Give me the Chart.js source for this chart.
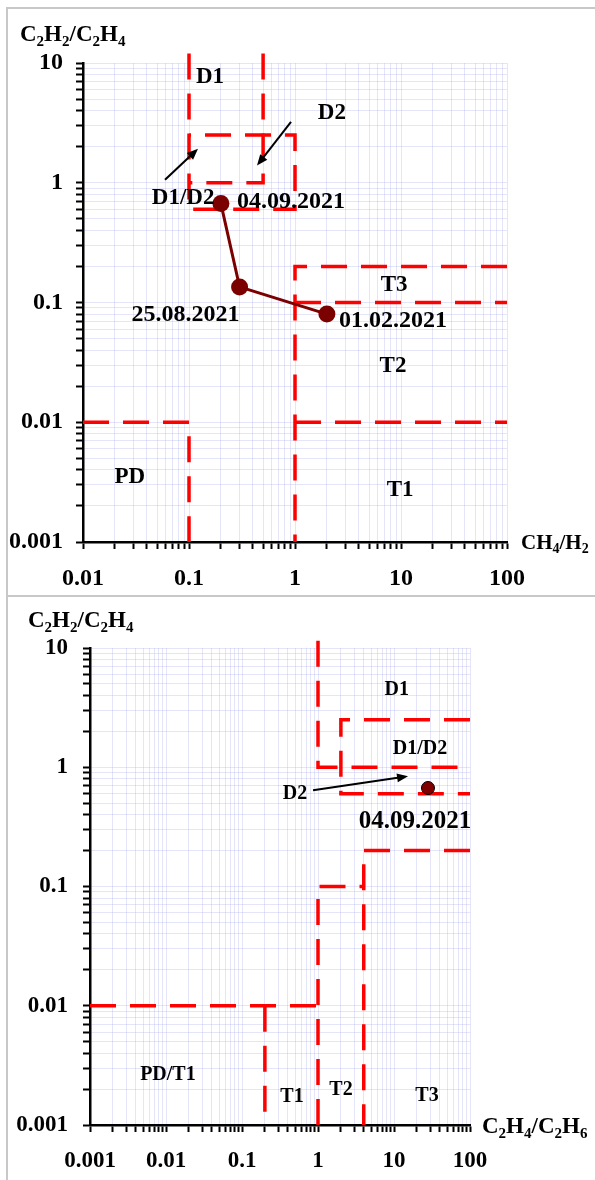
<!DOCTYPE html>
<html>
<head>
<meta charset="utf-8">
<script src="https://cdn.jsdelivr.net/npm/chart.js@4.4.1/dist/chart.umd.min.js"></script>
<style>
    body { margin: 0; background: #fff; width: 595px; height: 1180px; position: relative; overflow: hidden; }
    .frame { position: absolute; border-left: 2px solid #c8c8c8; border-top: 2px solid #c8c8c8; }
    canvas { position: absolute; left: 0; }
</style>
</head>
<body>
<div class="frame" style="left:6px; top:7px; width:600px; height:589px;"></div>
<div class="frame" style="left:6px; top:595px; width:600px; height:600px;"></div>
<canvas id="ratioChart" width="595" height="596" style="top:0"></canvas>
<canvas id="ethyleneChart" width="595" height="584" style="top:596px"></canvas>
<script>
/*** Data ***/
// CH4/H2 vs C2H2/C2H4
const sampleDates = ["04.09.2021", "25.08.2021", "01.02.2021"];
const ch4h2 = [0.2, 0.3, 2];
const c2h2c2h4 = [0.67, 0.135, 0.08];

// C2H4/C2H6 vs C2H2/C2H4 (latest sample only)
const latestDates = ["04.09.2021"];
const c2h4c2h6 = [28];
const c2h2c2h4Latest = [0.67];

// tick labels
const xTicksTop = [0.01, 0.1, 1, 10, 100];
const xTicksBottom = [0.001, 0.01, 0.1, 1, 10, 100];
const yTicks = [0.001, 0.01, 0.1, 1, 10];

// fault zone borders (ratio values)
const zonesTop = [
    [[0.1, 12], [0.1, 0.6], [1, 0.6], [1, 2.5], [0.1, 2.5]],
    [[0.5, 12], [0.5, 1], [0.1, 1]],
    [[100, 0.2], [1, 0.2], [1, 0.001]],
    [[1, 0.1], [100, 0.1]],
    [[1, 0.01], [100, 0.01]],
    [[0.01, 0.01], [0.1, 0.01], [0.1, 0.001]]
];
const zonesBottom = [
    [[0.001, 0.01], [1, 0.01]],
    [[0.2, 0.01], [0.2, 0.001]],
    [[1, 11.5], [1, 1], [100, 1]],
    [[100, 2.5], [2, 2.5], [2, 0.6], [100, 0.6]],
    [[100, 0.2], [4, 0.2], [4, 0.001]],
    [[1, 0.001], [1, 0.1], [4, 0.1]]
];

/*** Helpers ***/
const FONT = '"Liberation Serif", "Times New Roman", serif';

function logTicks(min, max) {
    const ticks = [];
    for (let e = Math.floor(Math.log10(min)); e <= Math.ceil(Math.log10(max)); e++) {
        for (let m = 1; m <= 9; m++) {
            const v = Number((m * Math.pow(10, e)).toPrecision(6));
            if (v >= min * 0.999 && v <= max * 1.001) ticks.push({ value: v });
        }
    }
    return ticks;
}
function tickLabel(list) {
    return function (value) {
        const t = list.find((v) => Math.abs(Math.log10(v) - Math.log10(value)) < 1e-6);
        return t !== undefined ? String(t) : '';
    }
}
function toPoints(xs, ys) {
    return xs.map((x, i) => ({ x: x, y: ys[i] }));
}
function zoneDatasets(zones) {
    return zones.map((z) => ({
        data: z.map((p) => ({ x: p[0], y: p[1] })),
        showLine: true,
        pointRadius: 0,
        borderColor: '#ff0000',
        borderWidth: 3.5,
        borderDash: [26, 14],
        clip: false,
        order: 1
    }));
}
// text with "_" marking a subscript digit
function drawChem(ctx, text, x, y, size) {
    let cx = x;
    for (let i = 0; i < text.length; i++) {
        let ch = text[i];
        if (ch === '_') {
            ch = text[++i];
            ctx.font = 'bold ' + Math.round(size * 0.66) + 'px ' + FONT;
            ctx.fillText(ch, cx, y + size * 0.2);
        } else {
            ctx.font = 'bold ' + size + 'px ' + FONT;
            ctx.fillText(ch, cx, y);
        }
        cx += ctx.measureText(ch).width;
    }
}
function drawArrow(ctx, x1, y1, x2, y2) {
    const a = Math.atan2(y2 - y1, x2 - x1);
    const len = 11, half = 4.5;
    ctx.strokeStyle = '#000';
    ctx.fillStyle = '#000';
    ctx.lineWidth = 2;
    ctx.beginPath();
    ctx.moveTo(x1, y1);
    ctx.lineTo(x2 - Math.cos(a) * len * 0.8, y2 - Math.sin(a) * len * 0.8);
    ctx.stroke();
    ctx.beginPath();
    ctx.moveTo(x2, y2);
    ctx.lineTo(x2 - len * Math.cos(a) + half * Math.sin(a), y2 - len * Math.sin(a) - half * Math.cos(a));
    ctx.lineTo(x2 - len * Math.cos(a) - half * Math.sin(a), y2 - len * Math.sin(a) + half * Math.cos(a));
    ctx.closePath();
    ctx.fill();
}

// zone names, arrows, point dates and axis titles
const notesPlugin = {
    id: 'notes',
    afterDatasetsDraw(chart, args, opts) {
        const ctx = chart.ctx;
        const xs = chart.scales.x, ys = chart.scales.y;
        const area = chart.chartArea;
        ctx.save();
        ctx.fillStyle = '#000';
        ctx.textBaseline = 'middle';
        ctx.textAlign = 'center';
        ctx.font = 'bold ' + opts.zoneSize + 'px ' + FONT;
        opts.zones.forEach((z) => {
            ctx.fillText(z.text, xs.getPixelForValue(z.x), ys.getPixelForValue(z.y));
        });
        opts.arrows.forEach((a) => {
            drawArrow(ctx, xs.getPixelForValue(a[0]), ys.getPixelForValue(a[1]),
                xs.getPixelForValue(a[2]), ys.getPixelForValue(a[3]));
        });
        // dates next to the sample points
        const meta = chart.getDatasetMeta(0);
        ctx.fillStyle = '#000';
        ctx.font = 'bold ' + opts.dateSize + 'px ' + FONT;
        opts.dates.forEach((d, i) => {
            const pt = meta.data[i];
            const off = opts.dateOffsets[i];
            ctx.textAlign = off.align;
            ctx.fillText(d, pt.x + off.dx, pt.y + off.dy);
        });
        // axis titles
        ctx.textAlign = 'left';
        ctx.textBaseline = 'alphabetic';
        drawChem(ctx, opts.yTitle, area.left + opts.yTitlePos[0], area.top + opts.yTitlePos[1], 23);
        drawChem(ctx, opts.xTitle, area.right + opts.xTitlePos[0], area.bottom + opts.xTitlePos[1], opts.xTitleSize);
        ctx.restore();
    }
};

function logScale(min, max, labels, axisSize, pad, fontSize) {
    return {
        type: 'logarithmic',
        min: min,
        max: max,
        afterBuildTicks: (scale) => { scale.ticks = logTicks(min, max); },
        afterFit: (scale) => {
            if (scale.isHorizontal()) scale.height = axisSize;
            else scale.width = axisSize;
        },
        grid: {
            color: 'rgba(170,170,240,0.3)',
            lineWidth: 1,
            drawTicks: true,
            tickLength: 7,
            tickColor: '#000',
            tickWidth: 2
        },
        border: { color: '#000', width: 2.5 },
        ticks: {
            autoSkip: false,
            maxRotation: 0,
            padding: pad,
            color: '#000',
            font: { family: FONT, size: fontSize, weight: 'bold' },
            callback: tickLabel(labels)
        }
    };
}

function renderChart(canvasId, cfg) {
    const ctx = document.getElementById(canvasId).getContext('2d');
    return new Chart(ctx, {
        type: 'scatter',
        data: {
            datasets: [cfg.sample].concat(zoneDatasets(cfg.zones))
        },
        options: {
            responsive: false,
            animation: false,
            events: [],
            layout: { padding: cfg.padding },
            plugins: {
                legend: { display: false },
                tooltip: { enabled: false },
                notes: cfg.notes
            },
            scales: {
                x: logScale(cfg.xMin, 100, cfg.xTicks, cfg.xAxisHeight, cfg.xPad, cfg.tickSize),
                y: logScale(0.001, 10, yTicks, cfg.yAxisWidth, cfg.yPad, cfg.tickSize)
            }
        },
        plugins: [notesPlugin]
    });
}

function init() {
    renderChart('ratioChart', {
        xMin: 0.01,
        xTicks: xTicksTop,
        zones: zonesTop,
        padding: { left: 0, top: 63, right: 88, bottom: 0 },
        xAxisHeight: 54,
        yAxisWidth: 83,
        xPad: 15,
        yPad: 13,
        tickSize: 24,
        sample: {
            data: toPoints(ch4h2, c2h2c2h4),
            showLine: true,
            borderColor: '#7b0000',
            borderWidth: 3,
            pointRadius: 8.5,
            pointBackgroundColor: '#7b0000',
            pointBorderWidth: 0,
            order: 0
        },
        notes: {
            zoneSize: 23,
            dateSize: 24,
            zones: [
                { text: 'D1', x: 0.158, y: 7.6 },
                { text: 'D2', x: 2.23, y: 3.83 },
                { text: 'D1/D2', x: 0.088, y: 0.75 },
                { text: 'T3', x: 8.6, y: 0.141 },
                { text: 'T2', x: 8.4, y: 0.0293 },
                { text: 'PD', x: 0.0277, y: 0.00348 },
                { text: 'T1', x: 9.8, y: 0.00271 }
            ],
            arrows: [
                [0.0594, 1.06, 0.1216, 1.92],
                [0.917, 3.22, 0.438, 1.39]
            ],
            dates: sampleDates,
            dateOffsets: [
                { dx: 16, dy: -2, align: 'left' },
                { dx: -54, dy: 28, align: 'center' },
                { dx: 12, dy: 7, align: 'left' }
            ],
            yTitle: 'C_2H_2/C_2H_4',
            yTitlePos: [-63, -22],
            xTitle: 'CH_4/H_2',
            xTitlePos: [14, 7],
            xTitleSize: 21
        }
    });

    renderChart('ethyleneChart', {
        xMin: 0.001,
        xTicks: xTicksBottom,
        zones: zonesBottom,
        padding: { left: 0, top: 52, right: 125, bottom: 0 },
        xAxisHeight: 55,
        yAxisWidth: 90,
        xPad: 15,
        yPad: 15,
        tickSize: 23,
        sample: {
            data: toPoints(c2h4c2h6, c2h2c2h4Latest),
            borderColor: '#000',
            pointRadius: 6.5,
            pointBackgroundColor: '#800000',
            pointBorderColor: '#000',
            pointBorderWidth: 1,
            order: 0
        },
        notes: {
            zoneSize: 20,
            dateSize: 25,
            zones: [
                { text: 'D1', x: 10.9, y: 4.42 },
                { text: 'D1/D2', x: 22, y: 1.44 },
                { text: 'D2', x: 0.497, y: 0.594 },
                { text: 'PD/T1', x: 0.0106, y: 0.00262 },
                { text: 'T1', x: 0.455, y: 0.00171 },
                { text: 'T2', x: 2.01, y: 0.00196 },
                { text: 'T3', x: 27.2, y: 0.00175 }
            ],
            arrows: [
                [0.86, 0.641, 15.3, 0.84]
            ],
            dates: latestDates,
            dateOffsets: [
                { dx: -13, dy: 34, align: 'center' }
            ],
            yTitle: 'C_2H_2/C_2H_4',
            yTitlePos: [-62, -21],
            xTitle: 'C_2H_4/C_2H_6',
            xTitlePos: [12, 8],
            xTitleSize: 23
        }
    });
}
init();
</script>
</body>
</html>
